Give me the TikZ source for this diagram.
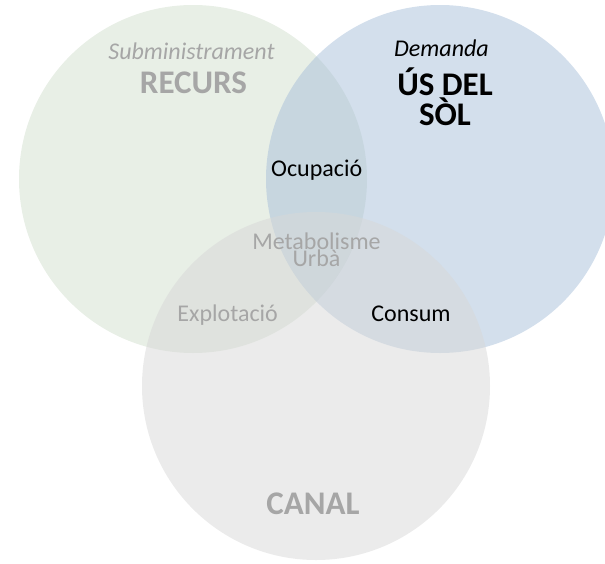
\documentclass[tikz,border=0pt]{standalone}
\usepackage{fontspec}
\setmainfont{Carlito}
\definecolor{cgreen}{RGB}{209,223,205}
\definecolor{cblue}{RGB}{167,191,217}
\definecolor{cgray}{RGB}{215,215,215}
\definecolor{tgray}{RGB}{166,166,166}
\tikzset{
  setcircle/.style={circle, inner sep=0pt, minimum size=348pt, fill opacity=0.5, draw=none},
  lbl/.style={anchor=base, inner sep=0pt, font=\fontsize{24}{24}\selectfont},
  lblit/.style={lbl, font=\fontsize{24}{24}\selectfont\itshape},
  lblbf/.style={lbl, font=\fontsize{33}{30}\selectfont\bfseries},
}
\begin{document}
\begin{tikzpicture}[x=1pt, y=-1pt]
\useasboundingbox (0,0) rectangle (605,563);
\node[setcircle, fill=cgreen] (recurs) at (193,179) {};
\node[setcircle, fill=cblue] (sol) at (440,179) {};
\node[setcircle, fill=cgray] (canal) at (316,386) {};
\node[lblit, text=tgray] (sub) at (191.5,59) {Subministrament};
\node[lblbf, text=tgray] (rec) at (193.5,93) {RECURS};
\node[lblit, text=black] (dem) at (441.5,56.7) {Demanda};
\node[lblbf, text=black, align=center] (us) at (445,125) {ÚS DEL\\SÒL};
\node[lbl, text=black] (ocu) at (316.7,176) {Ocupació};
\node[lbl, text=tgray, align=center, font=\fontsize{24}{17.5}\selectfont] (met) at (316.5,266.5) {Metabolisme\\Urbà};
\node[lbl, text=tgray] (exp) at (227.7,321.7) {Explotació};
\node[lbl, text=black] (con) at (411,321.7) {Consum};
\node[lblbf, text=tgray] (can) at (313,514) {CANAL};
\end{tikzpicture}
\end{document}
